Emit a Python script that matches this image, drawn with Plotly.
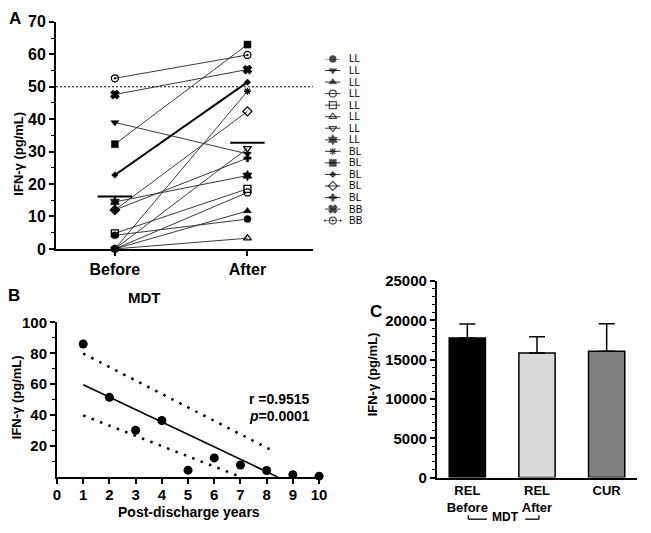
import plotly.graph_objects as go
import numpy as np

# ---------------- DATA ----------------
# Panel A: paired IFN-gamma before / after MDT
time_labels = ["Before", "After"]
patient_groups = ["LL", "LL", "LL", "LL", "LL", "LL", "LL", "LL",
                  "BL", "BL", "BL", "BL", "BL", "BB", "BB"]
ifn_before = [4.2, 39.0, 0.0, 0.0, 4.8, 0.0, 0.0, 14.5, 0.0, 32.3, 22.8, 12.0, 12.0, 47.6, 52.6]
ifn_after = [9.2, 29.3, 11.7, 17.4, 18.5, 3.3, 31.0, 22.6, 48.6, 63.0, 51.4, 42.4, 28.0, 55.3, 59.8]
cutoff_value = 50
a_yticks = [0, 10, 20, 30, 40, 50, 60, 70]

# Panel B: IFN-gamma vs post-discharge years
years = [1, 2, 3, 4, 5, 6, 7, 8, 9, 10]
ifn_years = [86.0, 51.5, 30.2, 36.5, 4.4, 12.3, 7.7, 4.2, 1.5, 0.5]
ci_upper_x = [1, 8.3]
ci_upper_y = [79.8, 16.3]
ci_lower_x = [1, 6.94]
ci_lower_y = [39.8, 0.5]
r_text = "r =0.9515"
p_text = "<i>p</i>=0.0001"
b_yticks = [20, 40, 60, 80, 100]
b_xticks = [0, 1, 2, 3, 4, 5, 6, 7, 8, 9, 10]

# Panel C: bars
bar_labels = ["REL<br>Before", "REL<br>After", "CUR"]
bar_means = [17750, 15860, 16060]
bar_err = [1800, 2050, 3520]
c_yticks = [0, 5000, 10000, 15000, 20000, 25000]

# ---------------- STYLES ----------------
symbols = ["circle", "triangle-down", "triangle-up", "circle-open", "square-open",
           "triangle-up-open", "triangle-down-open", "hexagram", "asterisk-open",
           "square", "diamond", "diamond-open", "cross", "x", "circle-open-dot"]
sizes = [7, 7, 7, 7, 7, 7, 7, 8, 6, 7, 5, 7, 6, 7, 7]
bar_colors = ["#000000", "#d9d9d9", "#7f7f7f"]
FONT = "Arial, Liberation Sans, sans-serif"
W, H = 651, 533


def px(xp):
    return xp / W


def py(yp):
    return (H - yp) / H


fig = go.Figure()

# ---------------- PANEL A ----------------
xa_idx = list(range(len(time_labels)))
for i in range(len(ifn_before)):
    thick = (i == 10)
    sym = symbols[i]
    fig.add_trace(go.Scatter(
        x=xa_idx, y=[ifn_before[i], ifn_after[i]], mode="lines+markers",
        line=dict(color="#000000" if thick else "#3a3a3a", width=2 if thick else 1),
        marker=dict(symbol=sym, size=sizes[i], color="black",
                    line=dict(color="black", width=1.3 if "open" in sym or sym == "x" else 0.5)),
        xaxis="x", yaxis="y", showlegend=False, cliponaxis=False, hoverinfo="skip"))

# means
for j, vals in enumerate([ifn_before, ifn_after]):
    m = float(np.mean(vals))
    fig.add_trace(go.Scatter(x=[j - 0.13, j + 0.13], y=[m, m], mode="lines",
                             line=dict(color="black", width=2), xaxis="x", yaxis="y",
                             showlegend=False, hoverinfo="skip"))

# cutoff dotted
fig.add_trace(go.Scatter(x=[-0.444, 1.496], y=[cutoff_value, cutoff_value], mode="lines",
                         line=dict(color="black", width=1.2, dash="2px,2px"),
                         xaxis="x", yaxis="y", showlegend=False, hoverinfo="skip"))

# custom legend (positions by index)
for i in range(len(patient_groups)):
    sym = symbols[i]
    fig.add_trace(go.Scatter(
        x=[0, 1, 2], y=[i, i, i], mode="lines+markers",
        line=dict(color="#3a3a3a", width=1),
        marker=dict(symbol=sym, size=[0, sizes[i], 0], color="black",
                    line=dict(color="black", width=1.2 if "open" in sym or sym == "x" else 0.5)),
        xaxis="x4", yaxis="y4", showlegend=False, cliponaxis=False, hoverinfo="skip"))

# ---------------- PANEL B ----------------
fig.add_trace(go.Scatter(x=years, y=ifn_years, mode="markers",
                         marker=dict(color="black", size=9), xaxis="x2", yaxis="y2",
                         showlegend=False, cliponaxis=False))
slope, intercept = np.polyfit(years, ifn_years, 1)
x_end = -intercept / slope
fig.add_trace(go.Scatter(x=[min(years), x_end], y=[slope * min(years) + intercept, 0],
                         mode="lines", line=dict(color="black", width=1.6),
                         xaxis="x2", yaxis="y2", showlegend=False))
for cx, cy in [(ci_upper_x, ci_upper_y), (ci_lower_x, ci_lower_y)]:
    fig.add_trace(go.Scatter(x=cx, y=cy, mode="lines",
                             line=dict(color="black", width=2.5, dash="2.5px,6.5px"),
                             xaxis="x2", yaxis="y2", showlegend=False))

# ---------------- PANEL C ----------------
fig.add_trace(go.Bar(x=list(range(len(bar_labels))), y=bar_means, width=0.52,
                     marker=dict(color=bar_colors, line=dict(color="black", width=1.5)),
                     error_y=dict(type="data", array=bar_err, arrayminus=[0] * len(bar_err),
                                  symmetric=False, color="black", thickness=1.5, width=8),
                     xaxis="x3", yaxis="y3", showlegend=False))


def tf(size):
    return dict(family=FONT, size=size, color="black", weight="bold")


common_axis = dict(showline=True, linecolor="black", linewidth=2, ticks="outside",
                   tickcolor="black", tickwidth=1.5, ticklen=5, showgrid=False,
                   zeroline=False)

layout = dict(
    width=W, height=H, margin=dict(l=0, r=0, t=0, b=0),
    paper_bgcolor="white", plot_bgcolor="white",
    font=dict(family=FONT, color="black"),
    xaxis=dict(domain=[px(53), px(315)], range=[-0.444, 1.496], tickvals=xa_idx,
               ticktext=time_labels, anchor="y", tickfont=tf(16), **common_axis),
    yaxis=dict(domain=[py(248.3), py(13.3)], range=[0, 70], tickvals=a_yticks,
               minor=dict(dtick=5, ticks="outside", ticklen=3, tickcolor="black", tickwidth=1),
               anchor="x", tickfont=tf(16), **common_axis),
    xaxis2=dict(domain=[px(54), px(321)], range=[0, 10], tickvals=b_xticks,
                anchor="y2", tickfont=tf(15), ticklabelstandoff=-2, **common_axis),
    yaxis2=dict(domain=[py(484.3), py(324.3)], range=[0, 100], tickvals=b_yticks,
                minor=dict(tickvals=[10, 30, 50, 70, 90], ticks="outside", ticklen=3,
                           tickcolor="black", tickwidth=1),
                anchor="x2", tickfont=tf(15), **common_axis),
    xaxis3=dict(domain=[px(441), px(645)], range=[-0.437, 2.437],
                tickvals=list(range(len(bar_labels))), ticktext=bar_labels,
                anchor="y3", tickfont=tf(13), **{**common_axis, "ticks": ""}),
    yaxis3=dict(domain=[py(485), py(281.6)], range=[0, 25000], tickvals=c_yticks,
                tickformat="d",
                minor=dict(dtick=1000, ticks="outside", ticklen=3, tickcolor="black", tickwidth=1),
                anchor="x3", tickfont=tf(15), **common_axis),
    xaxis4=dict(domain=[px(327), px(343)], range=[0, 2], visible=False, anchor="y4"),
    yaxis4=dict(domain=[py(219), py(51.7)], range=[len(patient_groups) - 1, 0], visible=False, anchor="x4"),
)
fig.update_layout(**layout)

ann = []
# legend labels
for i, g in enumerate(patient_groups):
    ann.append(dict(x=px(349), y=i, xref="paper", yref="y4", text=g, showarrow=False,
                    xanchor="left", yanchor="middle", font=dict(family=FONT, size=10, color="black")))
# panel letters
for t, xx, yy in [("A", 11, 10), ("B", 10, 296), ("C", 379, 313)]:
    ann.append(dict(x=px(xx), y=py(yy), xref="paper", yref="paper", text=t, showarrow=False,
                    xanchor="center", yanchor="middle", font=tf(17)))
# axis titles
for xx, yy in [(15, 150), (13, 402), (375, 378)]:
    ann.append(dict(x=px(xx), y=py(yy), xref="paper", yref="paper", text="IFN-γ (pg/mL)",
                    textangle=-90, showarrow=False, xanchor="center", yanchor="middle",
                    font=tf(13)))
ann.append(dict(x=px(188), y=py(521), xref="paper", yref="paper", text="Post-discharge years",
                showarrow=False, xanchor="center", yanchor="middle", font=tf(14)))
ann.append(dict(x=px(143), y=py(299), xref="paper", yref="paper", text="MDT",
                showarrow=False, xanchor="center", yanchor="middle", font=tf(15)))
ann.append(dict(x=px(314), y=py(404), xref="paper", yref="paper", text=r_text,
                showarrow=False, xanchor="right", yanchor="middle", font=tf(14)))
ann.append(dict(x=px(314), y=py(421), xref="paper", yref="paper", text=p_text,
                showarrow=False, xanchor="right", yanchor="middle", font=tf(14)))
# MDT bracket label
ann.append(dict(x=px(511), y=py(526), xref="paper", yref="paper", text="MDT",
                showarrow=False, xanchor="center", yanchor="middle", font=tf(12)))
fig.update_layout(annotations=ann)

shapes = []
for (x0, x1, xt) in [(473, 492, 473), (531, 545, 545)]:
    shapes.append(dict(type="line", xref="paper", yref="paper", x0=px(x0), x1=px(x1),
                       y0=py(528), y1=py(528), line=dict(color="black", width=1.3)))
    shapes.append(dict(type="line", xref="paper", yref="paper", x0=px(xt), x1=px(xt),
                       y0=py(528), y1=py(524), line=dict(color="black", width=1.3)))
fig.update_layout(shapes=shapes)

fig.write_html("out.html", config={"displayModeBar": False},
               post_script="document.body.style.margin='0';document.body.style.overflow='hidden';")
